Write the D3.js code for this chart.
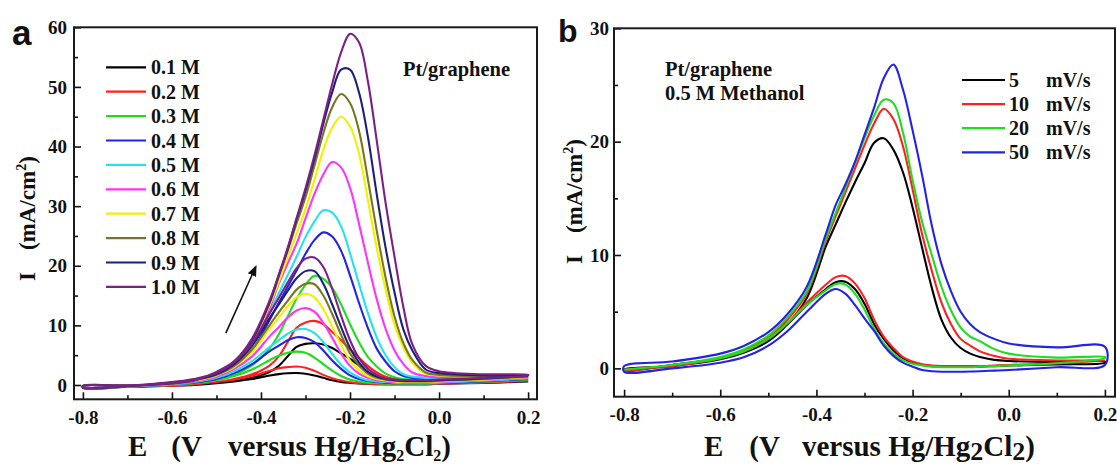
<!DOCTYPE html>
<html>
<head>
<meta charset="utf-8">
<script src="https://cdn.jsdelivr.net/npm/d3@7/dist/d3.min.js"></script>
<style>
body { margin: 0; background: #fff; }
text { font-family: "Times New Roman", "Liberation Serif", serif; font-weight: bold; fill: #111; }
.panelLabel { font-family: Arial, "Liberation Sans", sans-serif; }
</style>
</head>
<body>
<div id="vizContainer"></div>
<script>
let w = 1117;
let h = 466;

// potential grid (V vs Hg/Hg2Cl2), shared by every scan
let potential = [-0.8, -0.7, -0.6, -0.55, -0.5, -0.46, -0.42, -0.38, -0.36, -0.34, -0.32, -0.30, -0.28, -0.26,
	-0.24, -0.22, -0.20, -0.18, -0.16, -0.14, -0.12, -0.10, -0.08, -0.06, -0.03, 0.0, 0.1, 0.2];

// panel a: methanol concentration series
let concLabels = ["0.1 M", "0.2 M", "0.3 M", "0.4 M", "0.5 M", "0.6 M", "0.7 M", "0.8 M", "0.9 M", "1.0 M"];
let concColors = ["#000000", "#ff1f1f", "#1fdc1f", "#2323e6", "#22e4e8", "#ff33ff", "#f0f000", "#7a7620", "#1c1f7e", "#7d1f86"];

// forward (anodic) scan, mA/cm2, one row per concentration
let forwardA = [
	[-0.15, -0.2, -0.1, 0.0, 0.3, 0.7, 1.2, 2.2, 3.2, 4.8, 6.4, 6.9, 7.0, 6.8, 6.2, 5.3, 4.4, 3.3, 2.1, 1.3, 0.9, 0.7, 0.6, 0.5, 0.5, 0.5, 0.5, 0.6],
	[-0.15, -0.2, -0.1, 0.1, 0.5, 1.0, 1.8, 3.3, 4.8, 7.2, 9.6, 10.5, 10.75, 10.2, 8.9, 7.5, 6.0, 4.6, 3.2, 2.1, 1.4, 1.0, 0.8, 0.7, 0.6, 0.6, 0.6, 0.7],
	[-0.15, -0.2, 0.0, 0.3, 0.9, 1.8, 3.3, 6.2, 8.5, 11.5, 14.5, 16.8, 18.3, 17.8, 16.3, 13.5, 10.2, 7.2, 4.7, 3.1, 1.9, 1.3, 1.0, 0.9, 0.8, 0.8, 0.8, 0.9],
	[-0.15, -0.2, 0.1, 0.5, 1.5, 3.0, 5.8, 11.0, 13.8, 16.5, 19.2, 22.0, 24.3, 25.6, 24.9, 22.5, 18.4, 13.8, 9.6, 6.1, 3.9, 2.3, 1.5, 1.2, 1.1, 1.0, 1.0, 1.0],
	[-0.15, -0.2, 0.1, 0.5, 1.6, 3.3, 6.5, 12.3, 15.4, 18.4, 21.5, 24.8, 27.4, 29.3, 28.9, 26.6, 22.1, 17.0, 12.1, 8.0, 5.0, 3.0, 1.8, 1.4, 1.2, 1.1, 1.1, 1.1],
	[-0.15, -0.1, 0.2, 0.6, 1.8, 3.5, 7.0, 13.0, 17.0, 20.4, 23.7, 27.9, 32.0, 35.3, 37.4, 36.5, 33.1, 27.1, 20.6, 14.4, 9.4, 5.8, 3.5, 2.1, 1.5, 1.3, 1.2, 1.2],
	[-0.15, -0.1, 0.2, 0.7, 1.9, 3.7, 7.3, 13.5, 17.3, 21.4, 25.4, 29.5, 34.4, 39.4, 43.2, 45.0, 43.4, 38.9, 31.1, 23.0, 16.0, 10.1, 6.3, 3.7, 1.9, 1.6, 1.4, 1.3],
	[-0.15, -0.1, 0.2, 0.7, 2.0, 3.8, 7.5, 13.9, 18.2, 22.5, 27.1, 31.5, 36.8, 42.2, 46.6, 48.8, 47.3, 42.7, 34.6, 25.9, 18.0, 11.5, 7.0, 4.2, 2.1, 1.7, 1.5, 1.4],
	[-0.15, -0.1, 0.3, 0.8, 2.1, 3.9, 7.6, 14.0, 18.4, 22.8, 27.8, 32.6, 37.9, 43.8, 49.1, 52.9, 52.9, 49.1, 41.7, 32.0, 23.0, 15.5, 9.3, 5.8, 2.6, 2.0, 1.6, 1.5],
	[-0.15, -0.1, 0.3, 0.8, 2.2, 4.0, 7.8, 14.3, 18.5, 23.0, 28.0, 33.0, 38.5, 44.5, 50.5, 55.8, 58.9, 57.5, 51.0, 41.0, 30.5, 21.5, 13.0, 6.8, 3.2, 2.3, 1.8, 1.7]
];

// reverse (cathodic) scan, same grid, read from 0.2 V back to -0.8 V
let reverseA = [
	[-0.4, -0.3, -0.1, 0.1, 0.3, 0.6, 1.0, 1.58, 1.82, 1.97, 2.0, 1.88, 1.6, 1.2, 0.8, 0.5, 0.35, 0.25, 0.2, 0.15, 0.15, 0.15, 0.15, 0.15, 0.15, 0.2, 0.35, 0.6],
	[-0.45, -0.3, 0.0, 0.2, 0.5, 0.9, 1.5, 2.4, 2.8, 3.0, 3.1, 2.9, 2.4, 1.7, 1.15, 0.75, 0.45, 0.3, 0.2, 0.15, 0.1, 0.1, 0.1, 0.1, 0.1, 0.2, 0.4, 0.7],
	[-0.45, -0.3, 0.1, 0.3, 0.8, 1.5, 2.6, 4.2, 4.9, 5.4, 5.6, 5.4, 4.6, 3.5, 2.4, 1.5, 0.9, 0.6, 0.4, 0.3, 0.2, 0.2, 0.2, 0.2, 0.2, 0.3, 0.5, 0.9],
	[-0.45, -0.3, 0.1, 0.4, 1.0, 2.0, 3.5, 5.7, 6.6, 7.5, 8.0, 7.9, 7.2, 5.8, 4.1, 2.7, 1.6, 1.0, 0.7, 0.5, 0.4, 0.3, 0.3, 0.3, 0.3, 0.3, 0.6, 1.0],
	[-0.45, -0.3, 0.2, 0.5, 1.2, 2.3, 4.0, 6.4, 7.5, 8.6, 9.3, 9.4, 8.7, 7.2, 5.2, 3.4, 2.1, 1.3, 0.8, 0.6, 0.5, 0.4, 0.3, 0.3, 0.3, 0.4, 0.7, 1.1],
	[-0.45, -0.25, 0.2, 0.6, 1.4, 2.7, 4.8, 8.2, 9.7, 11.3, 12.5, 12.9, 12.3, 10.4, 7.9, 5.3, 3.2, 1.9, 1.2, 0.8, 0.6, 0.5, 0.4, 0.4, 0.4, 0.5, 0.8, 1.2],
	[-0.45, -0.2, 0.3, 0.7, 1.6, 3.0, 5.5, 9.5, 11.3, 13.2, 14.7, 15.3, 14.7, 12.7, 9.8, 6.7, 4.1, 2.5, 1.5, 1.0, 0.8, 0.6, 0.5, 0.5, 0.5, 0.6, 0.9, 1.3],
	[-0.45, -0.2, 0.4, 0.8, 1.7, 3.2, 6.0, 10.1, 12.2, 14.1, 16.0, 17.0, 16.9, 15.0, 11.9, 8.4, 5.3, 3.3, 1.9, 1.2, 0.9, 0.7, 0.6, 0.6, 0.6, 0.7, 1.0, 1.4],
	[-0.45, -0.2, 0.4, 0.9, 1.8, 3.5, 6.6, 11.3, 13.5, 15.8, 17.9, 19.1, 19.1, 17.0, 13.5, 9.7, 6.2, 3.8, 2.2, 1.4, 1.0, 0.8, 0.7, 0.7, 0.7, 0.8, 1.1, 1.5],
	[-0.45, -0.15, 0.5, 1.0, 2.0, 3.8, 7.0, 12.1, 14.6, 17.2, 19.6, 21.2, 21.4, 19.8, 16.1, 11.6, 7.5, 4.5, 2.7, 1.7, 1.1, 0.9, 0.8, 0.8, 0.8, 0.9, 1.2, 1.6]
];

// panel b: scan rate series, 0.5 M methanol
let rateLabels = ["5", "10", "20", "50"];
let rateColors = ["#000000", "#ff1f1f", "#1fdc1f", "#2323e6"];

let forwardB = [
	[-0.1, 0.2, 0.8, 1.4, 2.4, 3.9, 6.2, 10.8, 12.7, 14.6, 16.4, 18.1, 19.9, 20.3, 19.3, 17.3, 14.2, 10.6, 7.1, 4.3, 2.7, 1.8, 1.3, 1.0, 0.75, 0.65, 0.55, 0.6],
	[-0.15, 0.2, 0.9, 1.6, 2.7, 4.3, 6.6, 11.3, 13.4, 15.5, 17.6, 19.7, 21.6, 22.9, 22.0, 19.6, 15.8, 11.8, 8.6, 5.8, 3.9, 2.6, 2.0, 1.5, 1.1, 0.85, 0.7, 0.7],
	[-0.1, 0.3, 1.0, 1.7, 2.9, 4.5, 6.8, 11.5, 13.7, 15.9, 18.1, 20.3, 22.3, 23.7, 23.4, 20.8, 16.6, 12.9, 10.0, 7.2, 5.1, 3.6, 2.8, 2.4, 1.7, 1.3, 0.95, 1.0],
	[0.2, 0.6, 1.3, 2.0, 3.2, 4.8, 7.2, 11.9, 14.4, 16.2, 18.2, 20.6, 23.0, 25.6, 26.8, 24.6, 21.0, 17.0, 12.6, 9.2, 6.8, 5.0, 3.9, 3.2, 2.6, 2.2, 1.85, 1.9]
];

let reverseB = [
	[-0.2, 0.3, 0.9, 1.45, 2.5, 3.9, 5.6, 7.0, 7.6, 7.65, 7.0, 5.7, 3.9, 2.6, 1.6, 0.9, 0.5, 0.3, 0.2, 0.15, 0.12, 0.12, 0.12, 0.15, 0.2, 0.25, 0.35, 0.5],
	[-0.2, 0.3, 0.9, 1.5, 2.6, 4.0, 5.8, 7.4, 8.05, 8.15, 7.5, 6.2, 4.3, 2.8, 1.8, 1.0, 0.6, 0.35, 0.25, 0.2, 0.2, 0.2, 0.2, 0.2, 0.25, 0.3, 0.45, 0.7],
	[-0.1, 0.3, 0.9, 1.5, 2.6, 4.0, 5.6, 6.9, 7.45, 7.4, 6.6, 5.2, 3.5, 2.2, 1.3, 0.7, 0.4, 0.25, 0.15, 0.1, 0.1, 0.1, 0.1, 0.15, 0.2, 0.25, 0.45, 0.9],
	[-0.3, 0.0, 0.5, 1.0, 2.0, 3.3, 5.0, 6.6, 7.0, 6.6, 5.6, 4.4, 3.3, 2.0, 1.1, 0.5, 0.15, -0.15, -0.25, -0.3, -0.3, -0.3, -0.28, -0.25, -0.2, -0.15, 0.1, 0.3]
];

let xTicks = [-0.8, -0.6, -0.4, -0.2, 0.0, 0.2];
let xMinor = [-0.7, -0.5, -0.3, -0.1, 0.1];
let yTicksA = [0, 10, 20, 30, 40, 50, 60];
let yMinorA = [5, 15, 25, 35, 45, 55];
let yTicksB = [0, 10, 20, 30];
let yMinorB = [5, 15, 25];

// arrow in panel a (tail, head) in data units
let arrowA = [[-0.479, 8.7], [-0.412, 19.8]];

let viz = d3.select("#vizContainer").append("svg")
	.attr("width", w)
	.attr("height", h)
	.style("background-color", "white");

viz.append("defs").append("marker")
	.attr("id", "arrowHead")
	.attr("viewBox", "0 0 10 10")
	.attr("refX", 8)
	.attr("refY", 5)
	.attr("markerWidth", 7)
	.attr("markerHeight", 7)
	.attr("orient", "auto")
	.append("path")
	.attr("d", "M0,1 L10,5 L0,9 Z")
	.attr("fill", "#111");

function drawPanel(p) {
	let xScale = d3.scaleLinear().domain(p.xDomain).range([p.left, p.right]);
	let yScale = d3.scaleLinear().domain(p.yDomain).range([p.bottom, p.top]);
	let g = viz.append("g").attr("class", "panel" + p.id);

	let line = d3.line()
		.x(function (d) { return xScale(d[0]); })
		.y(function (d) { return yScale(d[1]); })
		.curve(d3.curveCatmullRomClosed.alpha(0.5));

	p.forward.forEach(function (fwd, i) {
		let rev = p.reverse[i];
		let pts = potential.map(function (e, k) { return [e, fwd[k]]; });
		let back = potential.map(function (e, k) { return [e, rev[k]]; }).reverse();
		g.append("path")
			.attr("d", line(pts.concat(back)))
			.attr("fill", "none")
			.attr("stroke", p.colors[i])
			.attr("stroke-width", 2.1);
	});

	// axes, ticks pointing inward
	let bottomAxis = g.append("g").attr("transform", "translate(0," + p.bottom + ")");
	bottomAxis.call(d3.axisBottom(xScale).tickValues(xTicks).tickSize(-7).tickPadding(11)
		.tickFormat(function (d) { return d.toFixed(1); }));
	bottomAxis.append("g").call(d3.axisBottom(xScale).tickValues(xMinor).tickSize(-4).tickFormat(""));

	let leftAxis = g.append("g").attr("transform", "translate(" + p.left + ",0)");
	leftAxis.call(d3.axisLeft(yScale).tickValues(p.yTicks).tickSize(-7).tickPadding(p.yPad));
	leftAxis.append("g").call(d3.axisLeft(yScale).tickValues(p.yMinor).tickSize(-4).tickFormat(""));

	g.selectAll(".domain").remove();
	g.selectAll(".tick line").attr("stroke", "#111").attr("stroke-width", 1.6);
	g.selectAll(".tick text")
		.style("font-family", "'Times New Roman', 'Liberation Serif', serif")
		.style("font-weight", "bold")
		.style("font-size", "19px")
		.attr("fill", "#111");

	g.append("rect")
		.attr("x", p.left)
		.attr("y", p.top)
		.attr("width", p.right - p.left)
		.attr("height", p.bottom - p.top)
		.attr("fill", "none")
		.attr("stroke", "#1a1a1a")
		.attr("stroke-width", 2);

	return { x: xScale, y: yScale, g: g };
}

// ---------- panel a ----------
let pa = drawPanel({
	id: "a", left: 74, right: 537, top: 27.3, bottom: 399.3,
	xDomain: [-0.82, 0.22], yDomain: [-2.4, 60],
	yTicks: yTicksA, yMinor: yMinorA, yPad: 7,
	forward: forwardA, reverse: reverseA, colors: concColors
});

let legendA = pa.g.append("g");
concLabels.forEach(function (lab, i) {
	let yy = 67.3 + i * 24.4;
	legendA.append("line").attr("x1", 106).attr("x2", 146).attr("y1", yy).attr("y2", yy)
		.attr("stroke", concColors[i]).attr("stroke-width", 2.2);
	legendA.append("text").attr("x", 151).attr("y", yy + 7).style("font-size", "20px").text(lab);
});

pa.g.append("text").attr("x", 403).attr("y", 76).style("font-size", "20.5px").text("Pt/graphene");

pa.g.append("line")
	.attr("x1", pa.x(arrowA[0][0])).attr("y1", pa.y(arrowA[0][1]))
	.attr("x2", pa.x(arrowA[1][0])).attr("y2", pa.y(arrowA[1][1]))
	.attr("stroke", "#111").attr("stroke-width", 1.6)
	.attr("marker-end", "url(#arrowHead)");

let xtA = viz.append("text").attr("x", 128).attr("y", 456).style("font-size", "29px");
xtA.append("tspan").text("E");
xtA.append("tspan").attr("dx", 24).text("(V");
xtA.append("tspan").attr("dx", 26).text("versus Hg/Hg");
xtA.append("tspan").attr("dy", 5).style("font-size", "16px").text("2");
xtA.append("tspan").attr("dy", -5).text("Cl");
xtA.append("tspan").attr("dy", 5).style("font-size", "16px").text("2");
xtA.append("tspan").attr("dy", -5).text(")");

let ytA = viz.append("text").attr("transform", "translate(35,281) rotate(-90)").style("font-size", "23px");
ytA.append("tspan").text("I");
ytA.append("tspan").attr("dx", 22).text("(mA/cm");
ytA.append("tspan").attr("dy", -9).style("font-size", "14px").text("2");
ytA.append("tspan").attr("dy", 9).text(")");

viz.append("text").attr("class", "panelLabel").attr("x", 12).attr("y", 45)
	.style("font-family", "Arial, 'Liberation Sans', sans-serif").style("font-size", "35px").text("a");

// ---------- panel b ----------
let pb = drawPanel({
	id: "b", left: 614, right: 1115, top: 28.3, bottom: 396.7,
	xDomain: [-0.821, 0.221], yDomain: [-2.5, 30],
	yTicks: yTicksB, yMinor: yMinorB, yPad: 5,
	forward: forwardB, reverse: reverseB, colors: rateColors
});

let legendB = pb.g.append("g");
rateLabels.forEach(function (lab, i) {
	let yy = 80 + i * 24.1;
	legendB.append("line").attr("x1", 962).attr("x2", 1005).attr("y1", yy).attr("y2", yy)
		.attr("stroke", rateColors[i]).attr("stroke-width", 2.2);
	legendB.append("text").attr("x", 1009).attr("y", yy + 7).style("font-size", "20px").text(lab);
	legendB.append("text").attr("x", 1046).attr("y", yy + 7).style("font-size", "20px").text("mV/s");
});

pb.g.append("text").attr("x", 665).attr("y", 76).style("font-size", "20.5px").text("Pt/graphene");
pb.g.append("text").attr("x", 665).attr("y", 100).style("font-size", "20.5px").text("0.5 M Methanol");

let xtB = viz.append("text").attr("x", 704).attr("y", 456).style("font-size", "29px");
xtB.append("tspan").text("E");
xtB.append("tspan").attr("dx", 26).text("(V");
xtB.append("tspan").attr("dx", 22).text("versus Hg/Hg");
xtB.append("tspan").attr("dy", 4).style("font-size", "26px").text("2");
xtB.append("tspan").attr("dy", -4).text("Cl");
xtB.append("tspan").attr("dy", 4).style("font-size", "26px").text("2");
xtB.append("tspan").attr("dy", -4).text(")");

let ytB = viz.append("text").attr("transform", "translate(582,264) rotate(-90)").style("font-size", "23px");
ytB.append("tspan").text("I");
ytB.append("tspan").attr("dx", 22).text("(mA/cm");
ytB.append("tspan").attr("dy", -9).style("font-size", "14px").text("2");
ytB.append("tspan").attr("dy", 9).text(")");

viz.append("text").attr("class", "panelLabel").attr("x", 558).attr("y", 42)
	.style("font-family", "Arial, 'Liberation Sans', sans-serif").style("font-size", "32px").text("b");
</script>
</body>
</html>
